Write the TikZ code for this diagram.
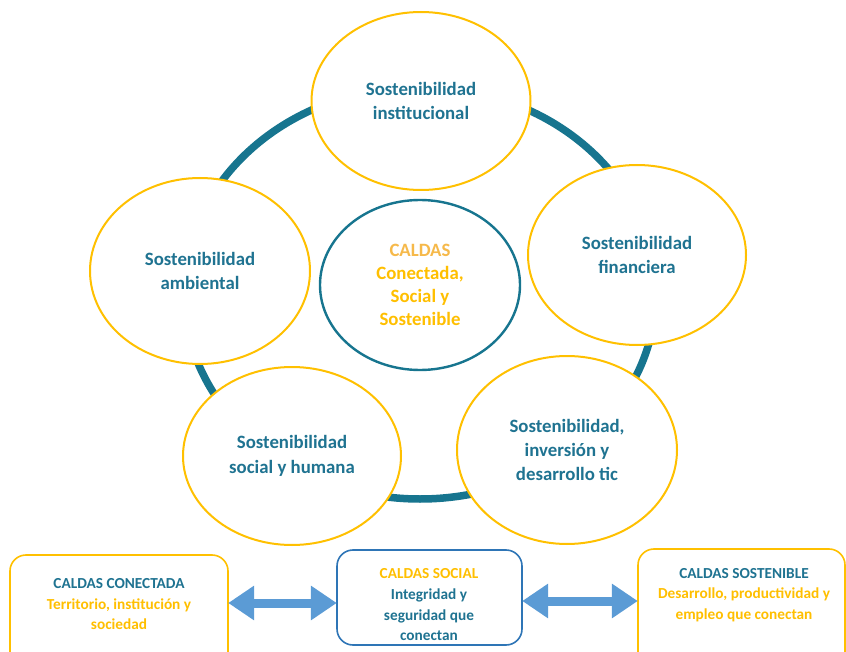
\documentclass[tikz,border=0pt]{standalone}
\usepackage{fontspec}
\setmainfont{Carlito}
\usetikzlibrary{shapes.geometric,arrows.meta}
\definecolor{teal}{HTML}{17758F}
\definecolor{tealtxt}{HTML}{1F7391}
\definecolor{gold}{HTML}{FFC000}
\definecolor{goldtxt}{HTML}{FFBF00}
\definecolor{goldlt}{HTML}{F6B94A}
\definecolor{bluebox}{HTML}{2E75B6}
\definecolor{arrowblue}{HTML}{5B9BD5}
\tikzset{
  pillar/.style={ellipse, draw=gold, line width=2pt, fill=white, inner sep=0pt,
    minimum width=220pt, minimum height=180pt, align=center, text=tealtxt,
    font=\bfseries\fontsize{18.8}{24.3}\selectfont},
  core/.style={ellipse, draw=teal, line width=2.4pt, fill=white, inner sep=0pt,
    minimum width=200pt, minimum height=170pt, align=center, text=goldtxt,
    font=\bfseries\fontsize{18.8}{23}\selectfont},
  ring/.style={draw=teal, line width=7.5pt},
  card/.style={draw=gold, line width=1.6pt, fill=white, rounded corners=16pt},
  bluecard/.style={card, draw=bluebox},
  cardtext/.style={align=center, inner sep=0pt, font=\bfseries\fontsize{15.3}{20.5}\selectfont},
  fat/.style={draw=arrowblue, line width=9pt,
    {Triangle[width=33pt,length=26pt]}-{Triangle[width=33pt,length=26pt]}}
}
\begin{document}
\begin{tikzpicture}[x=1pt,y=-1pt]
\useasboundingbox (0,0) rectangle (846,652);
\clip (0,0) rectangle (846,652);
% ring
\draw[ring] (420,293) ellipse [x radius=236, y radius=206];
% pillars
\node[pillar, minimum width=219pt, minimum height=178pt] (inst) at (421,101) {Sostenibilidad\\institucional};
\node[pillar, minimum width=220pt, minimum height=186pt] (amb) at (200,271) {Sostenibilidad\\ambiental};
\node[pillar, minimum width=218pt, minimum height=180pt] (fin) at (637,255) {Sostenibilidad\\financiera};
\node[pillar, minimum width=218pt, minimum height=178pt] (soc) at (292,456) {Sostenibilidad\\social y humana};
\node[pillar, minimum width=220pt, minimum height=188pt] (tic) at (567,450) {Sostenibilidad,\\inversión y\\desarrollo tic};
\node[core] (core) at (420,285) {\textcolor{goldlt}{CALDAS}\\Conectada,\\Social y\\Sostenible};
% bottom cards
\draw[card] (10,555) rectangle (228,672);
\node (cardL) at (119,600) [minimum width=218pt, minimum height=90pt, inner sep=0pt] {};
\draw[bluecard] (337,550) rectangle (522,645);
\node (cardM) at (429.5,597.5) [minimum width=185pt, minimum height=95pt, inner sep=0pt] {};
\draw[card] (638,549) rectangle (845,672);
\node (cardR) at (741.5,600) [minimum width=207pt, minimum height=100pt, inner sep=0pt] {};
\node[cardtext, text=tealtxt] (tL1) at (119,584) {CALDAS CONECTADA};
\node[cardtext, text=goldtxt] (tL2) at (119,614) {Territorio, institución y\\sociedad};
\node[cardtext, text=goldtxt] (tM1) at (429,574) {CALDAS SOCIAL};
\node[cardtext, text=tealtxt] (tM2) at (429,615) {Integridad y\\seguridad que\\conectan};
\node[cardtext, text=tealtxt] (tR1) at (744,574) {CALDAS SOSTENIBLE};
\node[cardtext, text=goldtxt] (tR2) at (744,605) {Desarrollo, productividad y\\empleo que conectan};
% arrows
\draw[fat] (cardL.east |- 0,603) -- (cardM.west |- 0,603);
\draw[fat] (cardM.east |- 0,601) -- (cardR.west |- 0,601);
\end{tikzpicture}
\end{document}
